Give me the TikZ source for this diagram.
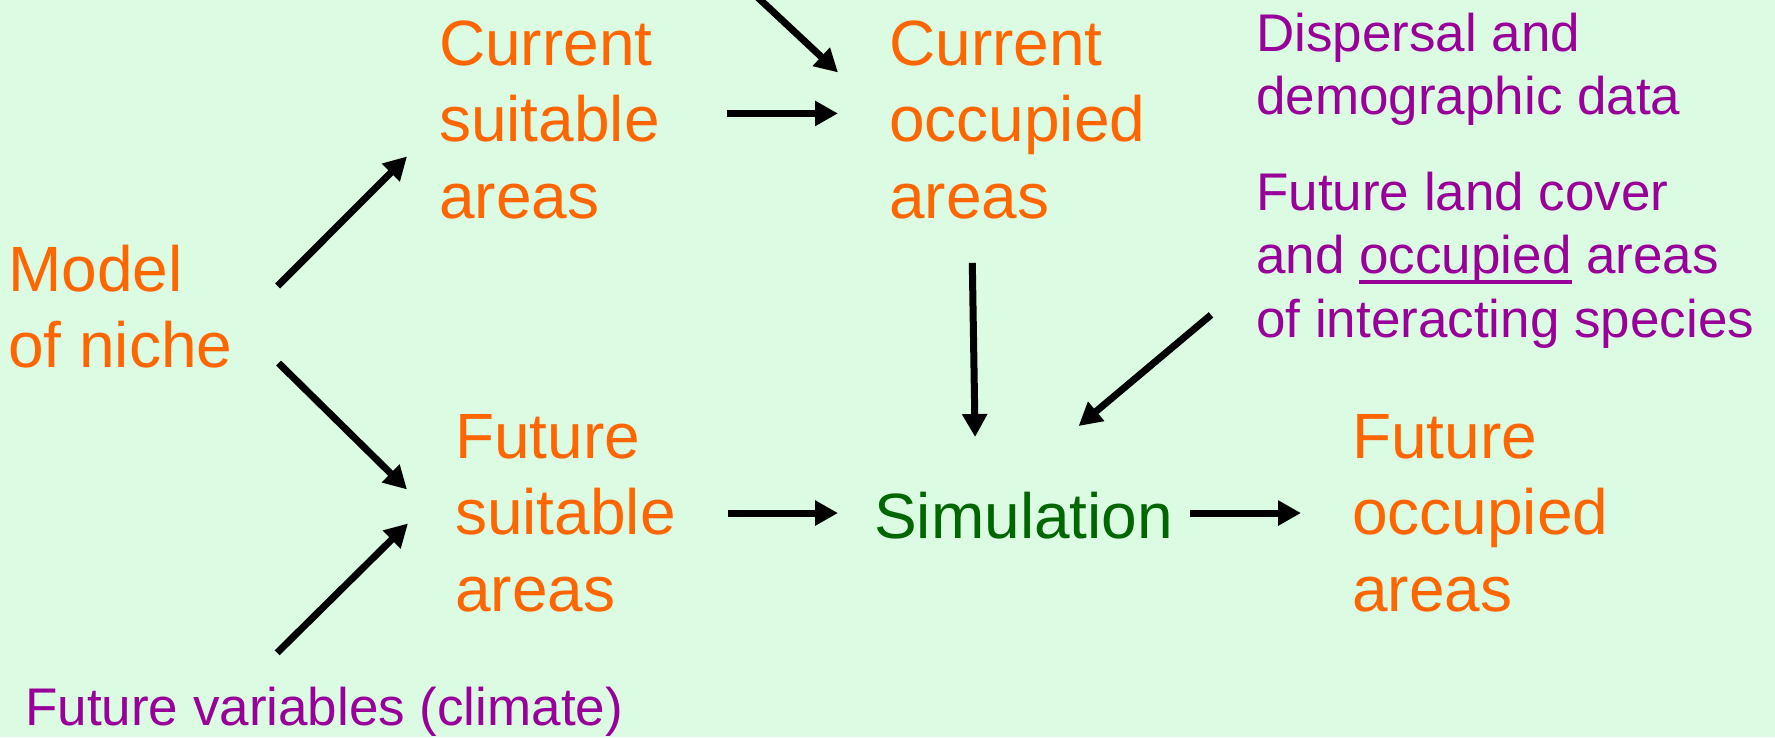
\documentclass[tikz,border=0pt]{standalone}
\usepackage{fontspec}
\setmainfont{Liberation Sans}
\usetikzlibrary{arrows.meta}

\definecolor{mint}{RGB}{219,251,227}
\definecolor{nicheorange}{RGB}{255,102,0}
\definecolor{datapurple}{RGB}{153,0,153}
\definecolor{simgreen}{RGB}{0,102,0}

% left-aligned block of lines whose baseline is that of its first line
\newcommand\stack[1]{\begin{tabular}[t]{@{}l@{}}#1\end{tabular}}
% word with a drawn underline
\newsavebox\ulbox
\newcommand\ulword[1]{\sbox\ulbox{#1}\rlap{\rule[-10pt]{\wd\ulbox}{4pt}}\usebox\ulbox}

\tikzset{
  stage/.style={anchor=base west, inner sep=0pt, text=nicheorange,
                font=\fontsize{64}{76.8}\selectfont},
  source/.style={anchor=base west, inner sep=0pt, text=datapurple,
                 font=\fontsize{53}{63.6}\selectfont},
  flow/.style={line width=7pt, -{Triangle[length=23pt,width=24pt]}},
}

\begin{document}
\begin{tikzpicture}[x=1pt,y=-1pt]
  \useasboundingbox (0,0) rectangle (1775,737);
  \fill[mint] (0,0) rectangle (1775,737);
  \clip (0,0) rectangle (1775,737);

  % stages of the projection
  \node[stage] (model)   at (8,291)   {\stack{Model\\of niche}};
  \node[stage] (cursuit) at (439,65)  {\stack{Current\\suitable\\areas}};
  \node[stage] (curocc)  at (889,65)  {\stack{Current\\occupied\\areas}};
  \node[stage] (futsuit) at (455,458) {\stack{Future\\suitable\\areas}};
  \node[stage, text=simgreen] (sim) at (874,538) {\stack{Simulation}};
  \node[stage] (futocc)  at (1352,458) {\stack{Future\\occupied\\areas}};

  % input data
  \node[source] (disp)   at (1256,51)  {\stack{Dispersal and\\demographic data}};
  \node[source] (land)   at (1256,210) {\stack{Future land cover\\and \ulword{occupied} areas\\of interacting species}};
  \node[source] (futvar) at (25,725)   {\stack{Future variables (climate)}};

  \coordinate (upstream) at (722,-36);

  % connectors
  \draw[flow] (upstream) -- ([xshift=-51pt,yshift=54pt]curocc.west);
  \draw[flow] ([xshift=45pt,yshift=28pt]model.east) -- ([xshift=-32pt,yshift=-30pt]cursuit.west);
  \draw[flow] ([xshift=46pt,yshift=-49pt]model.east) -- ([xshift=-48pt,yshift=30pt]futsuit.west);
  \draw[flow] ([xshift=-47pt,yshift=27.5pt]futvar.north) -- ([xshift=-47pt,yshift=-4pt]futsuit.west);
  \draw[flow] ([xshift=67pt,yshift=13pt]cursuit.east) -- ([xshift=-51pt,yshift=13pt]curocc.west);
  \draw[flow] ([xshift=51.5pt,yshift=6.4pt]futsuit.east) -- ([xshift=-36pt,yshift=9.6pt]sim.west);
  \draw[flow] ([xshift=17pt,yshift=9.6pt]sim.east) -- ([xshift=-51pt,yshift=6.4pt]futocc.west);
  \draw[flow] ([xshift=-45pt,yshift=-21pt]curocc.south) -- ([xshift=-48.5pt,yshift=47pt]sim.north);
  \draw[flow] ([xshift=-45pt,yshift=-54pt]land.west) -- ([xshift=55pt,yshift=58pt]sim.north);
\end{tikzpicture}
\end{document}
